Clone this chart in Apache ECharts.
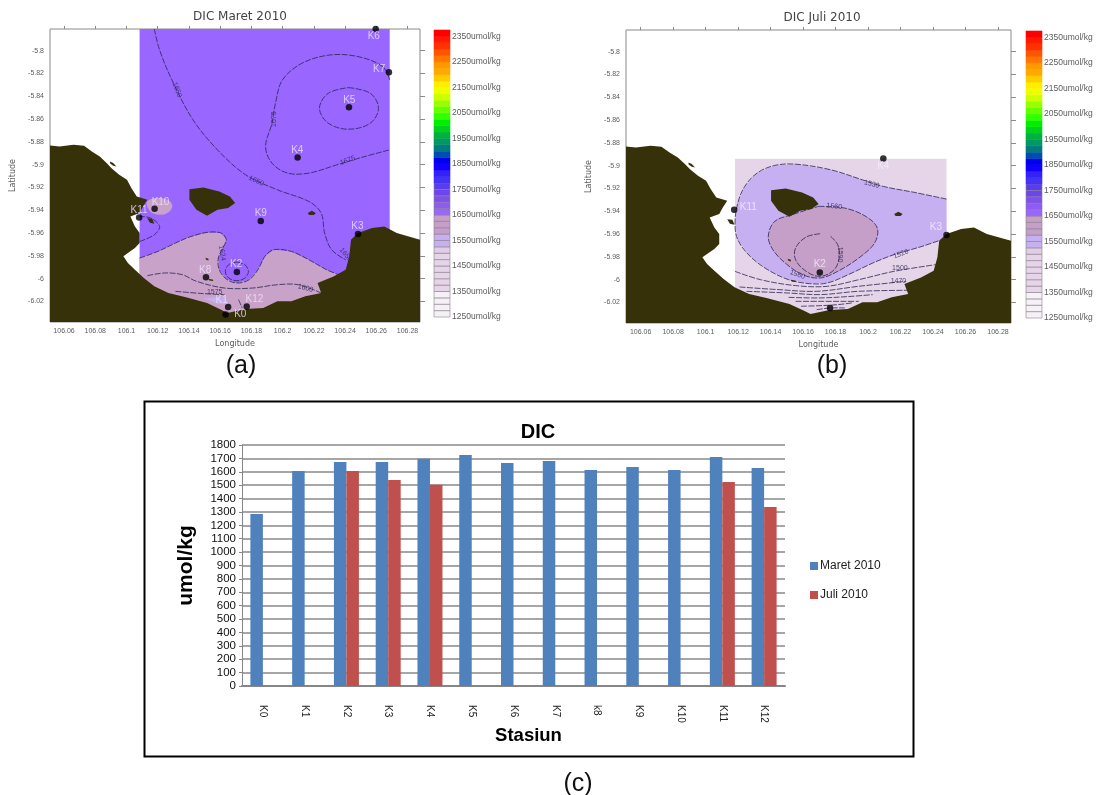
<!DOCTYPE html>
<html><head><meta charset="utf-8">
<script src="https://cdn.jsdelivr.net/npm/echarts@6/dist/echarts.min.js"></script>
<style>html,body{margin:0;padding:0;background:#fff}#c{width:1099px;height:795px}</style>
</head><body><div id="c"></div>
<script>
// ---------- bar chart data ----------
const stations = ['K0','K1','K2','K3','K4','K5','K6','K7','k8','K9','K10','K11','K12'];
const maret2010 = [1284,1606,1673,1673,1698,1726,1666,1681,1613,1636,1613,1711,1628];
const juli2010 = [null,null,1606,1539,1504,null,null,null,null,null,null,1524,1337];
const barTicks = [0,100,200,300,400,500,600,700,800,900,1000,1100,1200,1300,1400,1500,1600,1700,1800];

// ---------- map axes ----------
const lonTicks = [106.06,106.08,106.1,106.12,106.14,106.16,106.18,106.2,106.22,106.24,106.26,106.28];
const latTicks = [-5.8,-5.82,-5.84,-5.86,-5.88,-5.9,-5.92,-5.94,-5.96,-5.98,-6,-6.02];

// ---------- colour scale ----------
const scaleLabels = [1250,1350,1450,1550,1650,1750,1850,1950,2050,2150,2250,2350];
const scaleLevels = [1250,1275,1300,1325,1350,1375,1400,1425,1450,1475,1500,1525,1550,1575,1600,1625,1650,1675,1700,1725,1750,1775,1800,1825,1850,1875,1900,1925,1950,1975,2000,2025,2050,2075,2100,2125,2150,2175,2200,2225,2250,2275,2300,2325,2350];
const scaleColors = ['#f6f1f7','#f6f1f7','#f6f1f7','#f6f1f7','#e6d5e8','#e6d5e8','#e6d5e8','#e6d5e8','#e6d5e8','#e6d5e8','#e2cde4','#c6b0f2','#c6b0f2','#c59fc7','#c59fc7','#c59fc7','#9966ff','#8e5cf5','#7f50f0','#6d45ee','#5a3cf0','#4433f5','#3322f8','#1100ff','#0000ee','#004db0','#007a80','#009966','#00b040','#00d020','#00ee00','#33ff00','#66ff00','#99ff00','#ccff00','#eeff00','#ffee00','#ffcc00','#ffaa00','#ff9900','#ff7700','#ff5500','#ff3300','#ff1a00','#ff0000'];

// ---------- geography (lon, lat) ----------
const coast = [[106.051,-5.8832],[106.0571,-5.8841],[106.0661,-5.8826],[106.0728,-5.8835],[106.0778,-5.8885],[106.0829,-5.8928],[106.0874,-5.8987],[106.0904,-5.9031],[106.0953,-5.9089],[106.1003,-5.9133],[106.1032,-5.9206],[106.1066,-5.9279],[106.1133,-5.9308],[106.1106,-5.9366],[106.1084,-5.9425],[106.1025,-5.9454],[106.1054,-5.9542],[106.1084,-5.96],[106.1084,-5.9688],[106.1054,-5.9731],[106.1009,-5.9775],[106.098,-5.9804],[106.1009,-5.9863],[106.1054,-5.9921],[106.1111,-5.9994],[106.1178,-6.0067],[106.1268,-6.0126],[106.1381,-6.0164],[106.1516,-6.0213],[106.1606,-6.0272],[106.1646,-6.0301],[106.1763,-6.0266],[106.1876,-6.0257],[106.1966,-6.0199],[106.2056,-6.0199],[106.2146,-6.0155],[106.2247,-6.0126],[106.2224,-6.0038],[106.2326,-5.998],[106.2404,-5.9921],[106.2427,-5.9804],[106.2438,-5.9658],[106.2483,-5.96],[106.2573,-5.9556],[106.2652,-5.9542],[106.2731,-5.96],[106.2881,-5.9658],[106.2881,-6.038],[106.051,-6.038]];
const islandBig = [[106.1403,-5.9215],[106.1493,-5.92],[106.1594,-5.9235],[106.1662,-5.9279],[106.1696,-5.9337],[106.1651,-5.9381],[106.1583,-5.9396],[106.1516,-5.9448],[106.1448,-5.9396],[106.1403,-5.9308]];
const islandEast = [[106.2161,-5.9425],[106.2187,-5.9404],[106.2213,-5.9425],[106.22,-5.9442],[106.217,-5.9442]];
const islandWest = [[106.1133,-5.9469],[106.1165,-5.9475],[106.1178,-5.9518],[106.115,-5.951]];
const islandNorth = [[106.0895,-5.8972],[106.0915,-5.8985],[106.0935,-5.9015],[106.0915,-5.901],[106.0895,-5.899]];
const rockA = [[106.1505,-5.9817],[106.1525,-5.9825],[106.1525,-5.984],[106.151,-5.9835]];
const rockB = [[106.1525,-6.0],[106.1555,-6.001],[106.1555,-6.002],[106.153,-6.0015]];

// ---------- March contours ----------
const maretExtent = [[106.1084,-5.781],[106.2686,-5.781],[106.2686,-6.02],[106.1084,-6.02]];
const maret1600Edge = [[106.1084,-5.9819],[106.1201,-5.9761],[106.1313,-5.9688],[106.1403,-5.9635],[106.1516,-5.9594],[106.1606,-5.96],[106.1639,-5.9658],[106.1617,-5.9731],[106.1588,-5.9819],[106.1594,-5.9921],[106.1639,-6.0003],[106.1707,-6.0038],[106.1786,-6.0009],[106.1842,-5.9921],[106.1887,-5.9804],[106.1943,-5.9746],[106.2056,-5.9761],[106.2168,-5.9834],[106.2281,-5.9921],[106.2359,-5.9965]];
const maret1600Base = [[106.2326,-6.0096],[106.1988,-6.033],[106.1088,-6.033]];
const maretK10Blob = [[106.1133,-5.9323],[106.1212,-5.9293],[106.1279,-5.9323],[106.1291,-5.9381],[106.1246,-5.9434],[106.1178,-5.9431],[106.1144,-5.9396]];
const maretLavender = [[106.1493,-6.0169],[106.1628,-6.0164],[106.1655,-6.0228],[106.1583,-6.0219]];
const maret1650 = [[106.1178,-5.781],[106.1212,-5.7994],[106.1291,-5.8257],[106.1426,-5.8607],[106.1583,-5.887],[106.1763,-5.9089],[106.1966,-5.922],[106.2168,-5.9323],[106.2247,-5.9425],[106.2269,-5.96],[106.2314,-5.9746],[106.2404,-5.9834]];
const maret1675 = [[106.2686,-5.8257],[106.2641,-5.814],[106.2483,-5.8052],[106.2303,-5.8038],[106.2123,-5.8111],[106.1999,-5.8257],[106.1954,-5.8461],[106.1932,-5.8636],[106.1891,-5.8841],[106.1932,-5.8987],[106.2033,-5.9074],[106.2168,-5.9074],[106.2348,-5.9001],[106.2528,-5.8928],[106.2686,-5.887]];
const maretK5Loop = [[106.2422,-5.8324],[106.2562,-5.8374],[106.2614,-5.8505],[106.2562,-5.8636],[106.2422,-5.8689],[106.2292,-5.8636],[106.2236,-5.8505],[106.2292,-5.8374],[106.2422,-5.8324]];
const maretK2Loop = [[106.1707,-5.9854],[106.1758,-5.9877],[106.1781,-5.9936],[106.1758,-5.9994],[106.1707,-6.0018],[106.1655,-5.9994],[106.1633,-5.9936],[106.1655,-5.9877],[106.1707,-5.9854]];
const maretK11Arc = [[106.1084,-5.9673],[106.1178,-5.9615],[106.1212,-5.9542],[106.1156,-5.9469],[106.1084,-5.9454]];
const maret1600 = [[106.1133,-5.9974],[106.1246,-5.995],[106.1358,-5.9965],[106.1448,-6.0023],[106.1628,-6.0082],[106.1808,-6.0082],[106.1966,-6.0053],[106.2101,-6.0053],[106.2247,-6.0126]];
const maret1575 = [[106.1313,-6.0111],[106.1493,-6.0131],[106.1628,-6.014]];
const maretK12Arc = [[106.1718,-6.0184],[106.1741,-6.0257]];
const maretContourLabels = [[106.1324,-5.8344,'1650',-70],[106.1943,-5.8601,'1675',90],[106.2416,-5.8963,'1675',20],[106.1831,-5.9142,'1650',-25],[106.1612,-5.9775,'1624',-80],[106.2146,-6.0082,'1600',-15],[106.1565,-6.0117,'1575',0],[106.2404,-5.979,'1650',-50]];
const maretPoints = [[106.2596,-5.781],[106.2681,-5.819],[106.2425,-5.8496],[106.2096,-5.8937],[106.186,-5.9495],[106.2483,-5.9609],[106.1707,-5.9942],[106.1509,-5.9988],[106.118,-5.9387],[106.1081,-5.9463],[106.1651,-6.0248],[106.177,-6.0245],[106.1635,-6.0315]];
const maretStationLabels = [[106.2584,-5.7877,'K6'],[106.2618,-5.8163,'K7'],[106.2427,-5.8432,'K5'],[106.2094,-5.887,'K4'],[106.186,-5.9425,'K9'],[106.2479,-5.9536,'K3'],[106.1702,-5.9877,'K2'],[106.1504,-5.9927,'K8'],[106.1218,-5.9328,'K10'],[106.1081,-5.9401,'K11'],[106.161,-6.019,'K1'],[106.1819,-6.0184,'K12'],[106.1729,-6.0315,'K0']];

// ---------- July contours ----------
const juliExtent = [[106.1181,-5.894],[106.2483,-5.894],[106.2483,-6.03],[106.1181,-6.03]];
const juli1530 = [[106.2483,-5.9293],[106.2288,-5.9235],[106.2094,-5.9182],[106.1965,-5.9124],[106.177,-5.9036],[106.1554,-5.8987],[106.1425,-5.8998],[106.1317,-5.9065],[106.1241,-5.9182],[106.1198,-5.9328],[106.1181,-5.9503],[106.1198,-5.9649],[106.1274,-5.9795],[106.1382,-5.9912],[106.1511,-6],[106.1641,-6.0035],[106.1749,-6.0029],[106.1878,-5.9956],[106.2029,-5.9854],[106.2159,-5.9781],[106.2332,-5.9708],[106.2483,-5.9635]];
const juli1560 = [[106.1695,-5.9357],[106.1857,-5.9372],[106.1986,-5.9445],[106.2057,-5.9547],[106.204,-5.9679],[106.1943,-5.981],[106.1813,-5.9927],[106.1705,-5.9985],[106.1597,-5.9956],[106.149,-5.9854],[106.1414,-5.9737],[106.1386,-5.962],[106.1425,-5.9489],[106.1533,-5.943],[106.1695,-5.9357]];
const juli1590 = [[106.1705,-5.9597],[106.1619,-5.9626],[106.1554,-5.9722],[106.1554,-5.9825],[106.1619,-5.9927],[106.1705,-5.9971],[106.1792,-5.9912],[106.1824,-5.9795],[106.1813,-5.9693],[106.177,-5.962]];
const juli1500 = [[106.1181,-5.9927],[106.1338,-6],[106.1554,-6.0052],[106.1749,-6.0058],[106.1943,-6],[106.2159,-5.9927],[106.2418,-5.9868]];
const juli1470 = [[106.1209,-6.0064],[106.1446,-6.0087],[106.1684,-6.0102],[106.1943,-6.0058],[106.2234,-6.0014]];
const juli1440 = [[106.1252,-6.0102],[106.1511,-6.0117],[106.1705,-6.0131],[106.1943,-6.0102],[106.2256,-6.0093]];
const juli1410 = [[106.1511,-6.0155],[106.1705,-6.016],[106.19,-6.0146],[106.2029,-6.0131]];
const juli1380 = [[106.1554,-6.019],[106.1705,-6.019],[106.1857,-6.019],[106.1943,-6.019]];
const juli1350 = [[106.1587,-6.0233],[106.1705,-6.0228],[106.1813,-6.0219],[106.19,-6.0204]];
const juli1320 = [[106.1684,-6.0263],[106.177,-6.0248],[106.1857,-6.0248]];
const juliContourLabels = [[106.2023,-5.9162,'1530',-15],[106.1792,-5.9357,'1560',-5],[106.1824,-5.978,'1590',-90],[106.2202,-5.9775,'1526',20],[106.2196,-5.9898,'1500',0],[106.2187,-6.0014,'1470',0],[106.1565,-5.9956,'1560',-20]];
const juliPoints = [[106.2094,-5.8937],[106.1176,-5.9387],[106.2483,-5.9609],[106.1703,-5.9936],[106.1766,-6.0248]];
const juliStationLabels = [[106.2094,-5.9001,'K4'],[106.1263,-5.9366,'K11'],[106.2418,-5.9544,'K3'],[106.1703,-5.9868,'K2']];

// ---------- styling helpers ----------
const LAND='#363108', AXIS='#8a8a8a', MAPTXT='#5c5c5c', FONT='"Liberation Sans",Arial,sans-serif', WIDE='"DejaVu Sans",sans-serif';
const grids=[], xAxes=[], yAxes=[], series=[];

function addMapPanel(box){
  const g=grids.length; grids.push(box);
  const xi=xAxes.length, yi=yAxes.length;
  const lab={fontSize:7,color:MAPTXT,fontFamily:FONT,margin:6};
  const line={show:false};
  xAxes.push({gridIndex:g,type:'value',min:106.051,max:106.288,position:'bottom',name:'Longitude',nameLocation:'middle',nameGap:18,nameTextStyle:{fontSize:8,color:MAPTXT,fontFamily:WIDE},axisLine:line,axisTick:{show:false},splitLine:{show:false},axisLabel:Object.assign({customValues:lonTicks},lab)});
  xAxes.push({gridIndex:g,type:'value',min:106.051,max:106.288,position:'top',axisLine:line,axisTick:{show:true,length:3,lineStyle:{color:AXIS},customValues:lonTicks},axisLabel:{show:false},splitLine:{show:false}});
  yAxes.push({gridIndex:g,type:'value',min:-6.038,max:-5.781,position:'left',name:'Latitude',nameLocation:'middle',nameGap:33,nameTextStyle:{fontSize:8,color:MAPTXT,fontFamily:WIDE},axisLine:line,axisTick:{show:false},splitLine:{show:false},axisLabel:Object.assign({customValues:latTicks},lab)});
  yAxes.push({gridIndex:g,type:'value',min:-6.038,max:-5.781,position:'right',axisLine:line,axisTick:{show:true,length:5,lineStyle:{color:AXIS},customValues:latTicks},axisLabel:{show:false},splitLine:{show:false}});
  return {x:xi,y:yi};
}
function addScalePanel(box){
  const g=grids.length; grids.push(box);
  const xi=xAxes.length, yi=yAxes.length;
  xAxes.push({gridIndex:g,type:'value',min:0,max:1,show:false});
  yAxes.push({gridIndex:g,type:'value',position:'right',min:1250,max:2375,axisLine:{show:false},axisTick:{show:false},splitLine:{show:false},
    axisLabel:{customValues:scaleLabels,fontSize:8.5,color:'#5c5c5c',margin:2,fontFamily:FONT,formatter:v=>v+'umol/kg'}});
  series.push({type:'custom',xAxisIndex:xi,yAxisIndex:yi,silent:true,data:scaleLevels.map(v=>[0,v]),encode:{x:0,y:1},
    renderItem:(p,api)=>{
      const lo=api.value(1), a=api.coord([0,lo]), b=api.coord([1,lo+25]);
      const i=p.dataIndex;
      return {type:'rect',shape:{x:a[0],y:b[1],width:b[0]-a[0],height:a[1]-b[1]},
        style:{fill:scaleColors[i],stroke:i<21?'#8a7f8c':scaleColors[i],lineWidth:0.6}};
    }});
}
function shape(coords,ax,o){
  series.push({type:'custom',xAxisIndex:ax.x,yAxisIndex:ax.y,silent:true,clip:true,data:coords,encode:{x:0,y:1},
    renderItem:(p,api)=>{
      if(p.dataIndex!==0) return;
      const pts=coords.map(c=>api.coord(c));
      return {type:o.closed?'polygon':'polyline',shape:{points:pts,smooth:o.smooth||0},
        style:{fill:o.fill||null,stroke:o.stroke||null,lineWidth:o.width||0.8,lineDash:o.dash||null}};
    }});
}
const fill=(c,ax,f,s)=>shape(c,ax,{closed:true,fill:f,smooth:s});
const contour=(c,ax)=>shape(c,ax,{stroke:'#2a2450',dash:[6,1.5],width:0.8,smooth:0.35});
function texts(list,ax,color,size){
  series.push({type:'scatter',xAxisIndex:ax.x,yAxisIndex:ax.y,silent:true,symbolSize:0,
    data:list.map(d=>({value:[d[0],d[1]],label:{show:true,position:'inside',formatter:d[2],rotate:d[3]||0,color:color,fontSize:size,fontFamily:FONT}}))});
}
function dots(list,ax){
  series.push({type:'scatter',xAxisIndex:ax.x,yAxisIndex:ax.y,silent:true,symbol:'circle',symbolSize:6.5,itemStyle:{color:'#000'},data:list});
}
function land(ax){
  fill(coast,ax,LAND); fill(islandBig,ax,LAND); fill(islandEast,ax,LAND); fill(islandWest,ax,LAND); fill(islandNorth,ax,LAND); fill(rockA,ax,LAND); fill(rockB,ax,LAND);
}

// ---------- panel (a) ----------
const A=addMapPanel({left:50,right:1099-420,top:29,bottom:795-322,show:true,borderColor:AXIS,borderWidth:1,backgroundColor:'#fff'});
fill(maretExtent,A,'#9966ff');
fill(maret1600Edge.concat(maret1600Base),A,'#c9a2ca');
fill(maretK10Blob,A,'#c9a2ca',0.4);
fill(maretLavender,A,'#c6b0f2');
[maret1600Edge,maret1650,maret1675,maretK5Loop,maretK2Loop,maretK11Arc,maret1600,maret1575,maretK12Arc].forEach(c=>contour(c,A));
land(A);
texts(maretContourLabels,A,'#2a2450',7);
dots(maretPoints,A);
texts(maretStationLabels,A,'#ece2fa',10);
addScalePanel({left:434,width:16,top:30,height:287});

// ---------- panel (b) ----------
const B=addMapPanel({left:626,right:1099-1011,top:30,bottom:795-323,show:true,borderColor:AXIS,borderWidth:1,backgroundColor:'#fff'});
fill(juliExtent,B,'#e6d5e8');
fill(juli1530,B,'#c6b0f2');
fill(juli1560,B,'#c59fc7',0.3);
[juli1530,juli1560,juli1590,juli1500,juli1470,juli1440,juli1410,juli1380,juli1350,juli1320].forEach(c=>contour(c,B));
land(B);
texts(juliContourLabels,B,'#2a2450',7);
dots(juliPoints,B);
texts(juliStationLabels,B,'#f4eefc',10);
addScalePanel({left:1026,width:16,top:31,height:287});

// ---------- panel (c) ----------
const gBar=grids.length;
grids.push({left:242,right:1099-785,top:445,bottom:795-686});
const xBar=xAxes.length, yBar=yAxes.length;
xAxes.push({gridIndex:gBar,type:'category',data:stations,name:'Stasiun',nameLocation:'middle',nameGap:32,
  nameTextStyle:{fontSize:18.5,fontWeight:'bold',color:'#000',fontFamily:FONT,padding:[0,0,0,30]},
  axisLine:{lineStyle:{color:'#868686',width:2}},axisTick:{length:6,alignWithLabel:false,lineStyle:{color:'#868686',width:1.5},inside:false},
  axisLabel:{rotate:-90,fontSize:10,color:'#222',fontFamily:FONT,margin:19,verticalAlign:'middle'}});
yAxes.push({gridIndex:gBar,type:'value',min:0,max:1800,interval:100,name:'umol/kg',nameLocation:'middle',nameGap:45,
  nameTextStyle:{fontSize:21,fontWeight:'bold',color:'#000',fontFamily:FONT},
  axisLine:{show:true,lineStyle:{color:'#868686',width:1}},axisTick:{show:true,length:3,lineStyle:{color:'#868686'}},
  splitLine:{show:true,lineStyle:{color:'#a6a6a6',width:2}},
  axisLabel:{customValues:barTicks,formatter:v=>String(v),fontSize:11.5,color:'#111',fontFamily:FONT,margin:6}});
series.push({name:'Maret 2010',type:'bar',xAxisIndex:xBar,yAxisIndex:yBar,data:maret2010,barWidth:12.5,barGap:0,itemStyle:{color:'#4f81bd'},silent:true});
series.push({name:'Juli 2010',type:'bar',xAxisIndex:xBar,yAxisIndex:yBar,data:juli2010,barWidth:12.5,barGap:0,itemStyle:{color:'#c0504d'},silent:true});

const option={
  backgroundColor:'#fff',animation:false,
  title:[
    {text:'DIC Maret 2010',left:235,top:6,textAlign:'center',textStyle:{fontSize:12,fontWeight:'normal',color:'#444',fontFamily:WIDE}},
    {text:'DIC Juli 2010',left:817,top:7,textAlign:'center',textStyle:{fontSize:12,fontWeight:'normal',color:'#444',fontFamily:WIDE}},
    {text:'(a)',left:236,top:349,textAlign:'center',textStyle:{fontSize:25,fontWeight:'normal',color:'#111',fontFamily:FONT}},
    {text:'(b)',left:827,top:349,textAlign:'center',textStyle:{fontSize:25,fontWeight:'normal',color:'#111',fontFamily:FONT}},
    {text:'(c)',left:573,top:767,textAlign:'center',textStyle:{fontSize:25,fontWeight:'normal',color:'#111',fontFamily:FONT}},
    {text:'DIC',left:533,top:417,textAlign:'center',textStyle:{fontSize:20,fontWeight:'bold',color:'#000',fontFamily:FONT}}
  ],
  legend:{data:['Maret 2010','Juli 2010'],orient:'vertical',left:805,top:555,itemWidth:8,itemHeight:8,itemGap:17,icon:'rect',
    textStyle:{fontSize:12,color:'#222',fontFamily:FONT,padding:[0,0,0,-3]},selectedMode:false},
  graphic:[{type:'rect',left:142,top:399,shape:{width:769,height:355},style:{fill:'none',stroke:'#000',lineWidth:2},silent:true,z:-1}],
  grid:grids,xAxis:xAxes,yAxis:yAxes,series:series
};
echarts.init(document.getElementById('c'),null,{renderer:'canvas'}).setOption(option);
</script></body></html>
